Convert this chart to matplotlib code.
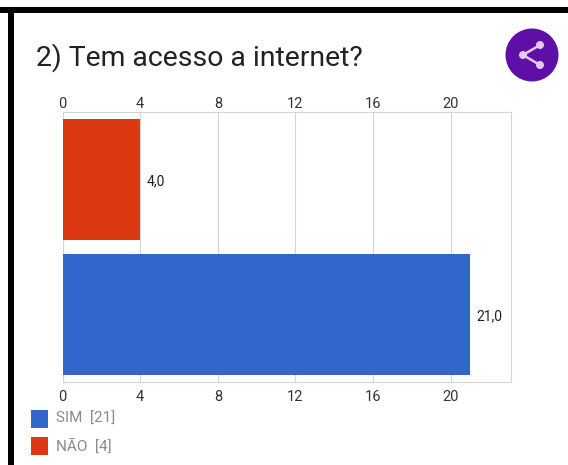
"""Horizontal bar chart: 2) Tem acesso a internet?"""

import matplotlib

matplotlib.use("Agg")
import matplotlib.pyplot as plt
from matplotlib.patches import Circle, Rectangle

TITLE = "2) Tem acesso a internet?"
categories = ["NÃO", "SIM"]
values = [4, 21]
colors = ["#dc3912", "#3366cc"]
value_labels = ["4,0", "21,0"]
x_ticks = [0, 4, 8, 12, 16, 20]

W, H = 568, 465
plt.rcParams["font.family"] = ["Roboto", "DejaVu Sans"]

fig = plt.figure(figsize=(W / 100, H / 100), dpi=100)

# overlay in pixel coords for frame, title, share icon, legend
bg = fig.add_axes([0, 0, 1, 1])
bg.set_xlim(0, W); bg.set_ylim(H, 0); bg.axis("off")
bg.add_patch(Rectangle((0, 7.5), W, 6, color="black", lw=0))
bg.add_patch(Rectangle((8, 7.5), 6, H - 7.5, color="black", lw=0))
bg.text(36, 58, TITLE, fontsize=20.4, color="#222222", va="center", ha="left")

# share button
bg.add_patch(Circle((532, 55), 26.5, color="#5e0fa8", lw=0))
nodes = [(523, 55), (540, 45), (540, 65)]
bg.plot([nodes[1][0], nodes[0][0], nodes[2][0]], [nodes[1][1], nodes[0][1], nodes[2][1]],
        color="#e6c8f0", lw=1.8)
for n in nodes:
    bg.add_patch(Circle(n, 4, color="#e6c8f0", lw=0))

# legend
for y, name, count, c in [(418.5, "SIM", 21, colors[1]), (446, "NÃO", 4, colors[0])]:
    bg.add_patch(Rectangle((31, y - 9), 17, 18, color=c, lw=0))
    bg.text(56, y, f"{name}  [{count}]", fontsize=11, color="#8a8a8a", va="center", ha="left")

# bars
ax = fig.add_axes([62.5 / W, 1 - 382 / H, (511 - 62.5) / W, (382 - 112) / H])
ax.barh(range(len(categories)), values, height=0.9, color=colors, zorder=3)
ax.set_xlim(0, 23.1)
ax.set_ylim(1.5, -0.5)
ax.set_yticks([])
ax.set_xticks(x_ticks)
ax.grid(axis="x", color="#d4d4d4", lw=0.8, zorder=0)
ax.tick_params(axis="x", length=0, labelsize=10.5, labelcolor="#333333", pad=5.5, bottom=False)
for s in ax.spines.values():
    s.set_color("#d4d4d4")
    s.set_linewidth(0.8)

# top labels sit closer to the frame than the bottom ones
top = ax.secondary_xaxis("top")
top.set_xticks(x_ticks)
top.tick_params(axis="x", length=0, labelsize=10.5, labelcolor="#333333", pad=0.5)
top.spines["top"].set_visible(False)

for i, (v, lab) in enumerate(zip(values, value_labels)):
    ax.annotate(lab, (v, i), xytext=(4.5, -1.5), textcoords="offset points", fontsize=10,
                color="#222222", va="center", ha="left")

fig.savefig("out.png", dpi=100)
